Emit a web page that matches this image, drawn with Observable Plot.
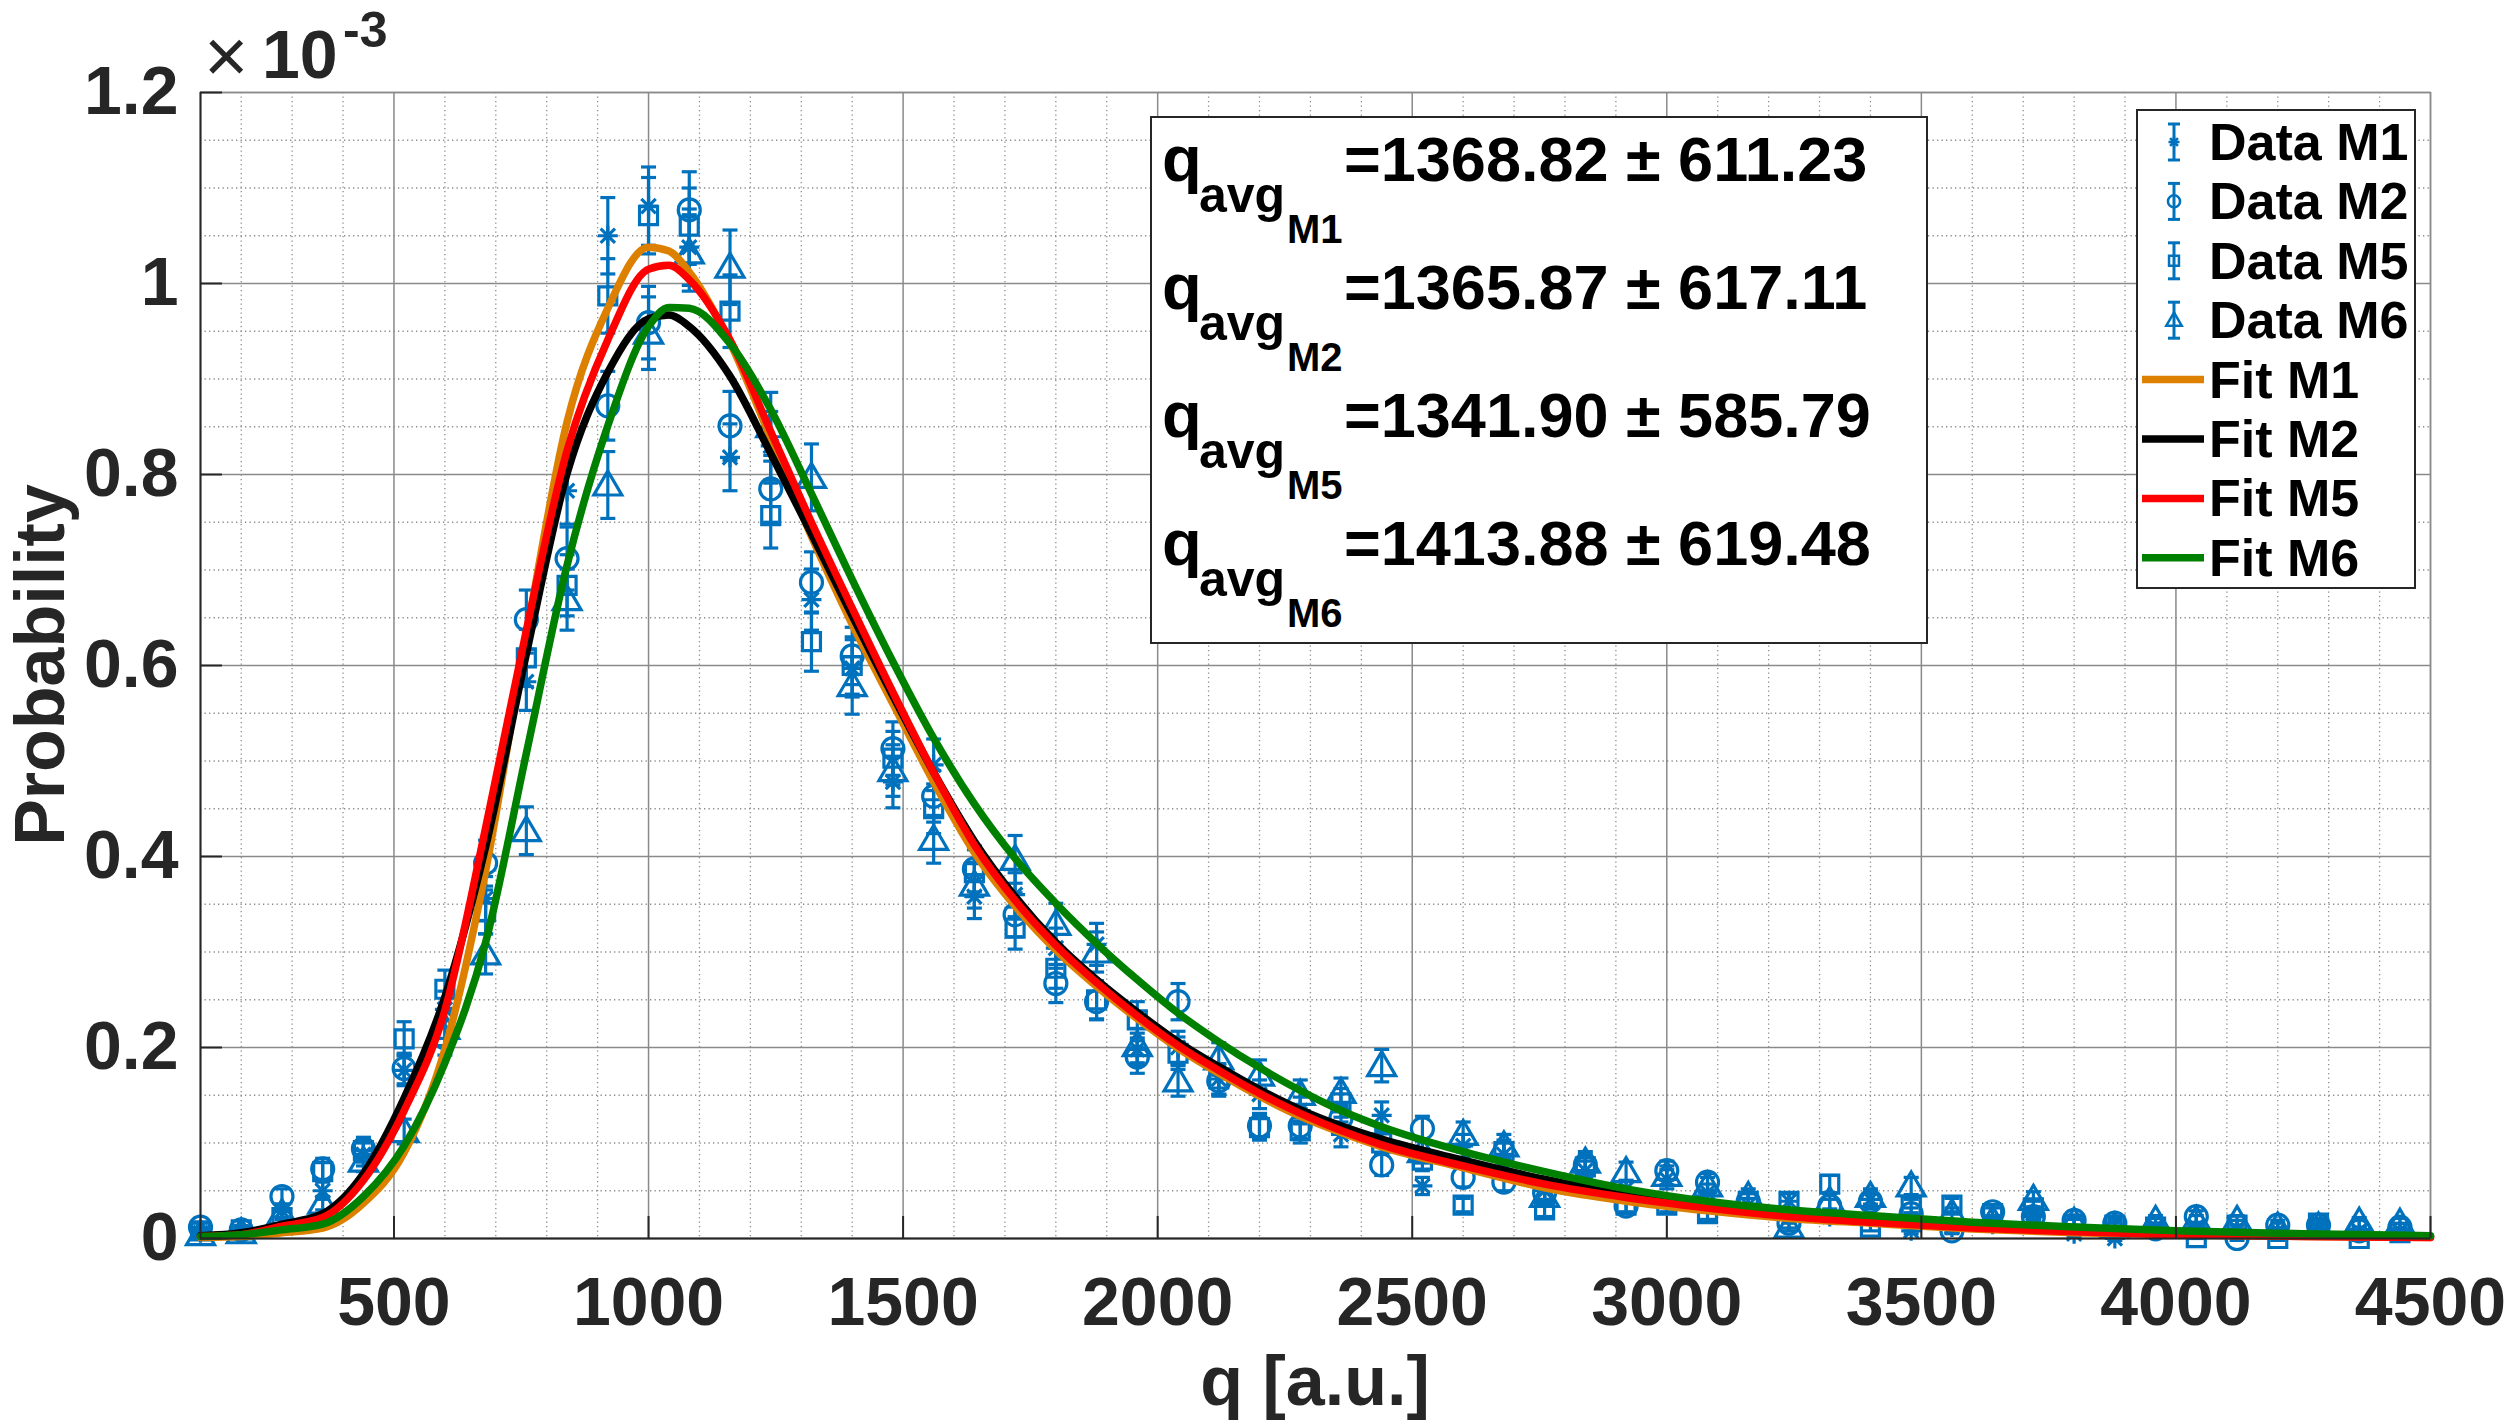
<!DOCTYPE html>
<html>
<head>
<meta charset="utf-8">
<script src="https://cdn.jsdelivr.net/npm/d3@7"></script>
<script src="https://cdn.jsdelivr.net/npm/@observablehq/plot@0.6"></script>
<style>
  html, body { margin: 0; padding: 0; background: #ffffff; }
  #chart { position: relative; width: 2517px; height: 1425px; }
</style>
</head>
<body>
<div id="chart"></div>
<script>
// ---------------- data (probability values in units of 1e-3) ----------------
const qBins = [120,200,280,360,440,520,600,680,760,840,920,1000,1080,1160,1240,1320,1400,1480,1560,1640,
  1720,1800,1880,1960,2040,2120,2200,2280,2360,2440,2520,2600,2680,2760,2840,2920,3000,3080,3160,3240,
  3320,3400,3480,3560,3640,3720,3800,3880,3960,4040,4120,4200,4280,4360,4440];

const dataM1 = [0.006,0.007,0.029,0.050,0.088,0.176,0.240,0.356,0.583,0.783,1.050,1.081,1.038,0.818,0.830,0.669,0.597,0.478,0.496,0.358,
  0.360,0.304,0.308,0.198,0.200,0.167,0.151,0.134,0.109,0.129,0.055,0.097,0.088,0.050,0.071,0.052,0.062,0.048,0.035,0.039,
  0.023,0.041,0.008,0.012,0.015,0.026,0.005,0.000,0.012,0.012,0.010,0.008,0.010,0.008,0.008];
const errM1 = [0.003,0.003,0.007,0.009,0.012,0.016,0.019,0.023,0.030,0.035,0.040,0.041,0.040,0.035,0.036,0.032,0.030,0.027,0.027,0.023,
  0.023,0.021,0.022,0.017,0.017,0.016,0.015,0.014,0.013,0.014,0.009,0.012,0.012,0.009,0.010,0.009,0.010,0.009,0.007,0.008,
  0.006,0.008,0.003,0.004,0.005,0.006,0.003,0.002,0.004,0.004,0.004,0.003,0.004,0.003,0.003];

const dataM2 = [0.012,0.009,0.044,0.073,0.094,0.178,0.210,0.393,0.648,0.712,0.872,0.959,1.077,0.851,0.785,0.687,0.610,0.513,0.463,0.387,
  0.339,0.267,0.248,0.190,0.248,0.165,0.118,0.118,0.126,0.077,0.115,0.064,0.059,0.048,0.077,0.034,0.071,0.059,0.039,0.016,
  0.034,0.039,0.026,0.008,0.028,0.023,0.019,0.016,0.010,0.023,0.000,0.014,0.014,0.008,0.012];
const errM2 = [0.004,0.004,0.008,0.011,0.012,0.016,0.018,0.024,0.031,0.033,0.036,0.038,0.040,0.036,0.035,0.032,0.030,0.028,0.027,0.024,
  0.023,0.020,0.019,0.017,0.019,0.016,0.013,0.013,0.014,0.011,0.013,0.010,0.009,0.009,0.011,0.007,0.010,0.009,0.008,0.005,
  0.007,0.008,0.006,0.003,0.007,0.006,0.005,0.005,0.004,0.006,0.002,0.005,0.005,0.003,0.004];

const dataM5 = [0.008,0.009,0.022,0.070,0.092,0.209,0.261,0.342,0.608,0.684,0.987,1.071,1.060,0.971,0.757,0.625,0.600,0.503,0.450,0.383,
  0.325,0.283,0.250,0.229,0.194,0.167,0.116,0.113,0.142,0.100,0.082,0.035,0.091,0.030,0.075,0.035,0.035,0.026,0.039,0.039,
  0.057,0.012,0.034,0.035,0.026,0.032,0.015,0.014,0.012,0.001,0.014,0.000,0.016,0.000,0.006];
const errM5 = [0.003,0.004,0.006,0.010,0.012,0.018,0.020,0.023,0.030,0.032,0.039,0.040,0.040,0.038,0.034,0.031,0.030,0.028,0.026,0.024,
  0.022,0.021,0.020,0.019,0.017,0.016,0.013,0.013,0.015,0.012,0.011,0.007,0.012,0.007,0.011,0.007,0.007,0.006,0.008,0.008,
  0.009,0.004,0.007,0.007,0.006,0.007,0.005,0.005,0.004,0.001,0.005,0.002,0.005,0.002,0.003];

const dataM6 = [0.004,0.006,0.026,0.037,0.081,0.112,0.220,0.298,0.427,0.669,0.789,0.948,1.032,1.017,0.850,0.797,0.579,0.490,0.418,0.370,
  0.397,0.329,0.300,0.202,0.165,0.188,0.171,0.151,0.153,0.181,0.091,0.109,0.097,0.044,0.080,0.070,0.066,0.055,0.044,0.012,
  0.039,0.044,0.055,0.026,0.019,0.041,0.017,0.012,0.019,0.019,0.019,0.012,0.012,0.017,0.016];
const errM6 = [0.002,0.003,0.006,0.007,0.011,0.013,0.018,0.021,0.025,0.032,0.035,0.038,0.040,0.039,0.036,0.035,0.030,0.027,0.025,0.024,
  0.025,0.022,0.021,0.018,0.016,0.017,0.016,0.015,0.015,0.017,0.012,0.013,0.012,0.008,0.011,0.010,0.010,0.009,0.008,0.004,
  0.008,0.008,0.009,0.006,0.005,0.008,0.005,0.004,0.005,0.005,0.005,0.004,0.004,0.005,0.005];

// fitted curves at these q positions
const fitQ = [120,200,280,360,440,520,600,680,760,840,920,1000,1040,1080,1160,1240,1320,1400,1480,1560,
  1640,1720,1800,1880,1960,2040,2120,2200,2280,2360,2440,2600,2760,2920,3080,3240,3400,3600,3800,4000,4250,4500];
const fitM1 = [0.001,0.002,0.006,0.011,0.037,0.090,0.198,0.385,0.631,0.855,0.974,1.038,1.034,1.012,0.938,0.838,0.735,0.643,0.560,0.478,
  0.404,0.348,0.302,0.264,0.230,0.199,0.173,0.149,0.128,0.111,0.096,0.074,0.053,0.039,0.029,0.021,0.016,0.010,0.006,0.004,0.002,0.001];
const fitM2 = [0.003,0.006,0.015,0.026,0.068,0.147,0.253,0.410,0.612,0.801,0.907,0.963,0.967,0.955,0.903,0.822,0.738,0.652,0.568,0.488,
  0.416,0.358,0.310,0.271,0.237,0.206,0.180,0.156,0.135,0.118,0.104,0.082,0.062,0.046,0.035,0.026,0.020,0.014,0.009,0.006,0.003,0.002];
const fitM5 = [0.002,0.004,0.013,0.022,0.061,0.134,0.239,0.430,0.637,0.825,0.941,1.015,1.019,1.004,0.941,0.845,0.750,0.660,0.572,0.488,
  0.412,0.354,0.307,0.268,0.233,0.202,0.176,0.152,0.131,0.113,0.098,0.076,0.057,0.043,0.032,0.023,0.017,0.011,0.007,0.004,0.002,0.001];
const fitM6 = [0.002,0.004,0.009,0.015,0.044,0.097,0.184,0.310,0.508,0.705,0.851,0.955,0.975,0.974,0.937,0.868,0.780,0.690,0.604,0.524,
  0.455,0.398,0.351,0.309,0.271,0.236,0.206,0.179,0.155,0.134,0.117,0.091,0.070,0.052,0.039,0.030,0.024,0.017,0.012,0.008,0.005,0.003];

const seriesNames = ["M1","M2","M5","M6"];
const qAvg = ["1368.82","1365.87","1341.90","1413.88"];
const qStd = ["611.23","617.11","585.79","619.48"];
const fitColors = ["#dd8000","#000000","#ff0000","#008000"];
const dataColor = "#0072bd";

const xTicks = [500,1000,1500,2000,2500,3000,3500,4000,4500];
const xMinor = [200,300,400,600,700,800,900,1100,1200,1300,1400,1600,1700,1800,1900,2100,2200,2300,2400,2600,2700,2800,2900,
  3100,3200,3300,3400,3600,3700,3800,3900,4100,4200,4300,4400];
const yTicks = [0,0.2,0.4,0.6,0.8,1,1.2];
const yTickLabels = ["0","0.2","0.4","0.6","0.8","1","1.2"];
const yMinor = [0.05,0.1,0.15,0.25,0.3,0.35,0.45,0.5,0.55,0.65,0.7,0.75,0.85,0.9,0.95,1.05,1.1,1.15];
const xLabel = "q [a.u.]";
const yLabel = "Probability";

// ---------------- layout ----------------
const W = 2517, H = 1425;
const mL = 200, mR = 87, mT = 92, mB = 187;
const FONT = "'Liberation Sans', Arial, Helvetica, sans-serif";
const AX = "#262626";

// ---------------- symbols (MATLAB-like markers) ----------------
function mk(scale) {
  const s = scale;
  return {
    ast: {draw(c) { const r = 10*s, d = r*0.72;
      c.moveTo(-r,0); c.lineTo(r,0); c.moveTo(0,-r); c.lineTo(0,r);
      c.moveTo(-d,-d); c.lineTo(d,d); c.moveTo(-d,d); c.lineTo(d,-d); }},
    circ: {draw(c) { const r = 11*s; c.moveTo(r,0); c.arc(0,0,r,0,2*Math.PI); c.closePath(); }},
    sq: {draw(c) { const r = 9*s; c.moveTo(-r,-r); c.lineTo(r,-r); c.lineTo(r,r); c.lineTo(-r,r); c.closePath(); }},
    tri: {draw(c) { c.moveTo(0,-14*s); c.lineTo(14*s,10*s); c.lineTo(-14*s,10*s); c.closePath(); }},
    cap: {draw(c) { const r = 7.5*s; c.moveTo(-r,0); c.lineTo(r,0); }}
  };
}
const S = mk(1);
const markerSyms = [S.ast, S.circ, S.sq, S.tri];

const dataSets = [dataM1, dataM2, dataM5, dataM6];
const errSets = [errM1, errM2, errM5, errM6];
const fitSets = [fitM1, fitM2, fitM5, fitM6];

const dataMarks = [];
dataSets.forEach((vals, si) => {
  const rows = qBins.map((q, i) => ({q, p: vals[i], e: errSets[si][i]}));
  dataMarks.push(Plot.ruleX(rows, {x: "q", y1: d => d.p - d.e, y2: d => d.p + d.e, stroke: dataColor, strokeWidth: 3.2}));
  dataMarks.push(Plot.dot(rows, {x: "q", y: d => d.p - d.e, symbol: S.cap, stroke: dataColor, strokeWidth: 3.2, fill: "none"}));
  dataMarks.push(Plot.dot(rows, {x: "q", y: d => d.p + d.e, symbol: S.cap, stroke: dataColor, strokeWidth: 3.2, fill: "none"}));
  dataMarks.push(Plot.dot(rows, {x: "q", y: "p", symbol: markerSyms[si], stroke: dataColor, strokeWidth: 3.2, fill: "none"}));
});

const fitMarks = fitSets.map((vals, si) =>
  Plot.line(fitQ.map((q, i) => ({q, p: vals[i]})), {x: "q", y: "p", stroke: fitColors[si], strokeWidth: 7.5, curve: "monotone-x"})
);

const frameW = W - mL - mR, frameH = H - mT - mB;

const plot = Plot.plot({
  width: W, height: H,
  marginLeft: mL, marginRight: mR, marginTop: mT, marginBottom: mB,
  style: {fontFamily: FONT, fontSize: "68px", fontWeight: "bold", color: AX, background: "#fff"},
  x: {domain: [120, 4500]},
  y: {domain: [0, 1.2]},
  marks: [
    Plot.gridX(xMinor, {stroke: "#8c8c8c", strokeOpacity: 1, strokeWidth: 1.3, strokeDasharray: "1.3,3.2"}),
    Plot.gridY(yMinor, {stroke: "#8c8c8c", strokeOpacity: 1, strokeWidth: 1.3, strokeDasharray: "1.3,3.2"}),
    Plot.gridX(xTicks, {stroke: "#8a8a8a", strokeOpacity: 1, strokeWidth: 1.5}),
    Plot.gridY(yTicks, {stroke: "#8a8a8a", strokeOpacity: 1, strokeWidth: 1.5}),
    Plot.frame({stroke: "#8a8a8a", strokeWidth: 1.5}),
    ...dataMarks,
    ...fitMarks,
    Plot.ruleX([120], {stroke: AX, strokeWidth: 2}),
    Plot.ruleY([0], {stroke: AX, strokeWidth: 2}),
    Plot.tickX(xTicks, {x: d => d, insetTop: frameH - 22, stroke: AX, strokeWidth: 2}),
    Plot.tickY(yTicks, {y: d => d, insetRight: frameW - 22, stroke: AX, strokeWidth: 2}),
    Plot.axisX(xTicks, {tickSize: 0, tickPadding: 38, label: null, tickFormat: d => String(d), fill: AX}),
    Plot.axisY(yTicks, {tickSize: 0, tickPadding: 22, label: null, tickFormat: (d, i) => yTickLabels[i], fill: AX})
  ]
});

document.getElementById("chart").appendChild(plot);

// ---------------- annotations ----------------
const svg = d3.select(plot);
const g = svg.append("g").attr("font-family", FONT).attr("text-anchor", "start");

// axis labels
g.append("text").attr("x", (mL + W - mR) / 2).attr("y", 1405).attr("text-anchor", "middle")
  .attr("font-size", 70).attr("font-weight", "bold").attr("fill", AX).text(xLabel);
g.append("text").attr("transform", `translate(64,${(mT + H - mB) / 2}) rotate(-90)`).attr("text-anchor", "middle")
  .attr("font-size", 70).attr("font-weight", "bold").attr("fill", AX).text(yLabel);

// exponent label x10^-3
g.append("text").attr("x", 204).attr("y", 82).attr("font-size", 76).attr("font-weight", "normal").attr("fill", AX).text("\u00d7");
g.append("text").attr("x", 262).attr("y", 78).attr("font-size", 68).attr("font-weight", "bold").attr("fill", AX).text("10");
g.append("text").attr("x", 343).attr("y", 47).attr("font-size", 50).attr("font-weight", "bold").attr("fill", AX).text("-3");

// stats text box
const tb = {x: 1151, y: 117, w: 776, h: 526};
g.append("rect").attr("x", tb.x).attr("y", tb.y).attr("width", tb.w).attr("height", tb.h)
  .attr("fill", "#fff").attr("stroke", "#262626").attr("stroke-width", 2);
seriesNames.forEach((nm, i) => {
  const by = 181 + 128 * i;
  const t = g.append("g").attr("font-weight", "bold").attr("fill", "#000").attr("text-anchor", "start");
  t.append("text").attr("x", 1162).attr("y", by).attr("font-size", 65).text("q");
  t.append("text").attr("x", 1199).attr("y", by + 31).attr("font-size", 50).text("avg");
  t.append("text").attr("x", 1287).attr("y", by + 62).attr("font-size", 40).text(nm);
  t.append("text").attr("x", 1344).attr("y", by).attr("font-size", 63).text(`=${qAvg[i]} \u00b1 ${qStd[i]}`);
});

// legend
const lg = {x: 2137, y: 110, w: 278, h: 478};
g.append("rect").attr("x", lg.x).attr("y", lg.y).attr("width", lg.w).attr("height", lg.h)
  .attr("fill", "#fff").attr("stroke", "#262626").attr("stroke-width", 2);
const SL = mk(0.55);
const legSyms = [SL.ast, SL.circ, SL.sq, SL.tri];
const symPath = sym => { const p = d3.path(); sym.draw(p); return p.toString(); };
const legendLabels = seriesNames.map(n => "Data " + n).concat(seriesNames.map(n => "Fit " + n));
legendLabels.forEach((lab, i) => {
  const cy = 142 + 59.4 * i;
  if (i < 4) {
    g.append("line").attr("x1", 2174).attr("x2", 2174).attr("y1", cy - 18).attr("y2", cy + 18)
      .attr("stroke", dataColor).attr("stroke-width", 3);
    g.append("line").attr("x1", 2168).attr("x2", 2180).attr("y1", cy - 18).attr("y2", cy - 18)
      .attr("stroke", dataColor).attr("stroke-width", 3);
    g.append("line").attr("x1", 2168).attr("x2", 2180).attr("y1", cy + 18).attr("y2", cy + 18)
      .attr("stroke", dataColor).attr("stroke-width", 3);
    g.append("path").attr("d", symPath(legSyms[i])).attr("transform", `translate(2174,${cy})`)
      .attr("fill", "none").attr("stroke", dataColor).attr("stroke-width", 2.5);
  } else {
    g.append("line").attr("x1", 2142).attr("x2", 2204).attr("y1", cy).attr("y2", cy)
      .attr("stroke", fitColors[i - 4]).attr("stroke-width", 7.5);
  }
  g.append("text").attr("x", 2209).attr("y", cy + 18).attr("font-size", 52).attr("font-weight", "bold")
    .attr("fill", "#000").attr("text-anchor", "start").text(lab);
});
</script>
</body>
</html>
